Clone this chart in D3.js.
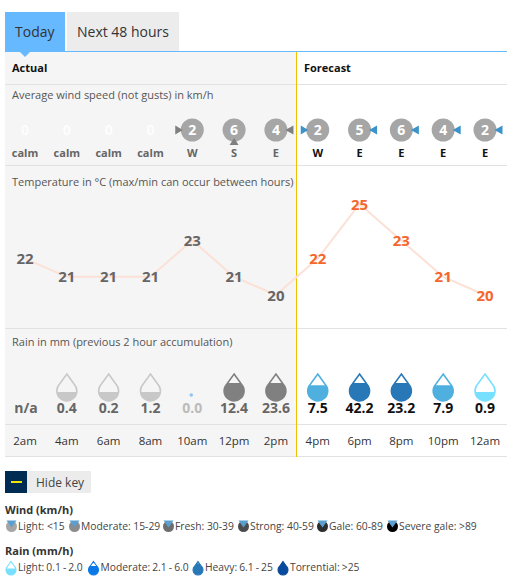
<!DOCTYPE html>
<html><head><meta charset="utf-8">
<style>html,body{margin:0;padding:0;background:#fff;overflow:hidden}svg{display:block}text{font-family:"Open Sans",sans-serif}</style>
<script src="https://cdn.jsdelivr.net/npm/d3@7"></script></head><body>
<svg id="c" width="507" height="584"></svg>
<script>
const times=["2am","4am","6am","8am","10am","12pm","2pm","4pm","6pm","8pm","10pm","12am"];
const windSpeed=[0,0,0,0,2,6,4,2,5,6,4,2];
const windDir=["calm","calm","calm","calm","W","S","E","W","E","E","E","E"];
const temps=[22,21,21,21,23,21,20,22,25,23,21,20];
const rain=["n/a","0.4","0.2","1.2","0.0","12.4","23.6","7.5","42.2","23.2","7.9","0.9"];
const rainFill=[0,0.3,0.3,0.3,0,0.63,0.63,0.55,0.63,0.63,0.55,0.3];
const actualCount=7;
const windKey=[["Light: <15","#a6a6a6",6],["Moderate: 15-29","#8c8c8c",69],["Fresh: 30-39","#6e6e6e",163],["Strong: 40-59","#4d4d4d",238],["Gale: 60-89","#2e2e2e",317],["Severe gale: >89","#000",387]];
const rainKey=[["Light: 0.1 - 2.0","#78e0ff",11,.4],["Moderate: 2.1 - 6.0","#0a78e6",93.5,.6],["Heavy: 6.1 - 25","#2878b8",198,.8],["Torrential: >25","#0a4a9c",283,1]];

const svg=d3.select("#c");
const x=d3.scalePoint().domain(d3.range(12)).range([25,485]);
const y=d3.scaleLinear().domain([20,25]).range([295,204]);
const T=(s,px,py,o={})=>svg.append("text").attr("x",px).attr("y",py).text(s)
  .attr("font-size",o.size||11).attr("font-weight",o.w||400).attr("fill",o.c||"#444").attr("text-anchor",o.a||"start");
const R=(a,b,w,h,c)=>svg.append("rect").attr("x",a).attr("y",b).attr("width",w).attr("height",h).attr("fill",c);

R(5,51,291,405,"#f5f5f5");
R(5,12,60,39,"#66b8ff");
R(67,12,112,39,"#ececec");
T("Today",15,37,{size:14,c:"#333"});
T("Next 48 hours",77,37,{size:14,c:"#333"});
R(5,51,502,1,"#66b8ff");
svg.append("path").attr("d",d3.line()([[20,52],[30,52],[25,57]])+"Z").attr("fill","#66b8ff");
[84,165,328,424,456].forEach(v=>R(5,v,502,1,"#e2e2e2"));
R(296,52,1,405,"#eec200");
T("Actual",12,72,{w:700,c:"#111"});
T("Forecast",304,72,{w:700,c:"#111"});
T("Average wind speed (not gusts) in km/h",12,99,{c:"#555"});
T("Temperature in °C (max/min can occur between hours)",12,186,{c:"#555"});
T("Rain in mm (previous 2 hour accumulation)",12,346,{c:"#555"});

// wind
const wy=130;
const arrow=(d,cx)=>{
  const p=d==="W"?[[cx-17,wy-4.5],[cx-17,wy+4.5],[cx-9.5,wy]]:
          d==="E"?[[cx+17.5,wy-4.5],[cx+17.5,wy+4.5],[cx+9.5,wy]]:
          [[cx-4.5,wy+15],[cx+4.5,wy+15],[cx,wy+8]];
  return d3.line()(p)+"Z";
};
windSpeed.forEach((s,i)=>{
  const cx=x(i),act=i<actualCount;
  if(s>0){
    svg.append("circle").attr("cx",cx).attr("cy",wy).attr("r",11.5).attr("fill","#a6a6a6");
    svg.append("path").attr("d",arrow(windDir[i],cx)).attr("fill",act?"#7f7f7f":"#3b93c9");
  }
  T(s,cx,wy+5,{size:14,w:700,c:"#fff",a:"middle"}).attr("opacity",s>0?1:.85);
  T(windDir[i],cx,157,{w:700,c:act?"#666":"#111",a:"middle"});
});

// temp
svg.append("path").attr("d",d3.line().x((d,i)=>x(i)).y(d=>y(d))(temps)).attr("fill","none").attr("stroke","#fbe1d6").attr("stroke-width",2);
temps.forEach((t,i)=>T(t,x(i),y(t)+5.5,{size:15,w:700,c:i<actualCount?"#666":"#f5662d",a:"middle"}));

// rain
const dropPath=(cx,top,s)=>{
  const w=10*s,h=27*s,cy=top+h-w;
  return `M${cx},${top} L${cx+w*0.72},${cy-w*0.7} A${w},${w} 0 1 1 ${cx-w*0.72},${cy-w*0.7} Z`;
};
const defs=svg.append("defs");
let clipId=0;
function drop(cx,top,s,color,level){
  const h=27*s,id="cl"+(clipId++);
  defs.append("clipPath").attr("id",id).append("rect").attr("x",cx-12*s).attr("y",top+h*(1-level)).attr("width",24*s).attr("height",h*level+1);
  svg.append("path").attr("d",dropPath(cx,top+1,s)).attr("fill","none").attr("stroke",color).attr("stroke-width",Math.max(1.6*s,1.1));
  svg.append("path").attr("d",dropPath(cx,top+1,s)).attr("fill",color).attr("clip-path",`url(#${id})`);
}
const rainColor=(v,i)=>{
  if(i<actualCount) return v>6?"#808080":"#c8c8c8";
  if(v>20) return "#2878b8";
  if(v>2) return "#4fb0e0";
  return "#78e0ff";
};
rain.forEach((r,i)=>{
  const cx=x(i),v=+r,act=i<actualCount;
  if(r==="n/a"){T(r,cx+1,412.5,{size:14,w:700,c:"#666",a:"middle"});}
  else{
    if(v>0) drop(cx,373,1,rainColor(v,i),rainFill[i]);
    else svg.append("circle").attr("cx",cx-1).attr("cy",395).attr("r",1.8).attr("fill","#8fc5f5");
    T(r,cx,412.5,{size:14,w:700,c:v===0?"#bbb":act?"#666":"#111",a:"middle"});
  }
  T(times[i],cx,445,{size:11.5,c:"#333",a:"middle"});
});

// key
R(5,471,22,22,"#002b52");
R(11,481,11,2,"#f0e600");
R(27,471,64,22,"#ececec");
T("Hide key",36,487,{size:12,c:"#444"});
T("Wind (km/h)",5,514,{w:700,c:"#333"});
T("Rain (mm/h)",5,555,{w:700,c:"#333"});
windKey.forEach(([s,c,px])=>{
  const cx=px+5.5,cy=526.5;
  svg.append("circle").attr("cx",cx).attr("cy",cy).attr("r",5.5).attr("fill",c);
  svg.append("path").attr("d",d3.line()([[cx-5,cy-6],[cx+5,cy-6],[cx,cy+1]])+"Z").attr("fill","#5a9fd0");
  T(s,px+12,530,{size:10.3,c:"#444"});
});
rainKey.forEach(([s,c,px,l])=>{
  drop(px,560.5,.5,c,l);
  T(s,px+7,571,{size:10.3,c:"#444"}).attr("word-spacing","-0.6");
});
</script></body></html>
